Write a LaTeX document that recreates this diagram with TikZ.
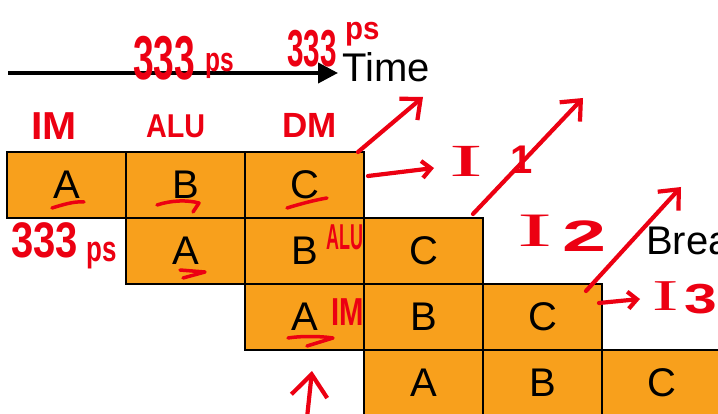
\documentclass[tikz,border=0pt]{standalone}
\usepackage{fontspec}
\setmainfont{Liberation Sans}
\newfontfamily\penserif{Liberation Serif}
\usetikzlibrary{arrows.meta}
\definecolor{cellorange}{RGB}{248,160,28}
\definecolor{pen}{RGB}{236,0,18}
\newcommand\handtxt[3]{\fontsize{#2}{#2}\selectfont\scalebox{#1}[1]{#3}}
\tikzset{
  cell/.style={draw=black, line width=2pt, fill=cellorange, minimum width=119pt,
    minimum height=66pt, inner sep=0pt, font=\fontsize{40}{44}\selectfont},
  hand/.style={text=pen, inner sep=0pt, anchor=base west, font=\bfseries},
  penline/.style={draw=pen, line width=4.2pt, line cap=round, line join=round},
  penarrow/.style={penline, -{Straight Barb[length=16pt,width=28pt]}},
  smallpenarrow/.style={penline, -{Straight Barb[length=9pt,width=17pt]}},
}
\begin{document}
\begin{tikzpicture}[x=1pt,y=-1pt]
\useasboundingbox (0,0) rectangle (718,414);
\clip (0,0) rectangle (718,414);
\fill[white] (0,0) rectangle (718,414);

% pipeline cells
\foreach \r in {0,1,2,3}{
  \foreach \c/\l in {0/A,1/B,2/C}{
    \pgfmathsetmacro\cx{66.5+119*(\r+\c)}
    \pgfmathsetmacro\cy{185+66*\r}
    \node[cell] (c\r\l) at (\cx,\cy) {\l};
  }
}

% time axis
\node[anchor=base west, inner sep=0pt, font=\fontsize{40}{44}\selectfont] (time) at (342,82) {Time};
\coordinate (t0) at (8,73);
\draw[line width=4pt, -{Triangle[length=20pt,width=20pt]}, shorten >=4pt] (t0) -- (time.west |- t0);

\node[anchor=base west, inner sep=0pt, font=\fontsize{40}{44}\selectfont] (brea) at (646,255) {Brea};

% handwritten annotations
\node[hand] (h333a) at (133,80) {\handtxt{0.6}{62}{333}};
\node[hand] (hpsa) at (205,72) {\handtxt{0.72}{34}{ps}};
\node[hand] (h333b) at (287,67) {\handtxt{0.57}{52}{333}};
\node[hand] (hpsb) at (345,40) {\handtxt{0.92}{32}{ps}};
\node[hand] (h333c) at (11,258) {\handtxt{0.8}{50}{333}};
\node[hand] (hpsc) at (86,262) {\handtxt{0.72}{36}{ps}};

\node[hand] (him) at (31,140) {\handtxt{1.05}{39}{IM}};
\node[hand] (halu) at (146,138) {\handtxt{0.87}{33}{ALU}};
\node[hand] (hdm) at (282,138) {\handtxt{1}{35}{DM}};
\node[hand] (halu2) at (326,250) {\handtxt{0.5}{36}{ALU}};
\node[hand] (him2) at (331,326) {\handtxt{0.75}{39}{IM}};

\node[hand] (hI1) at (449,177) {\penserif\mdseries\handtxt{2.2}{46}{I}};
\node[hand] (h1) at (510,174) {\handtxt{1}{40}{1}};
\node[hand] (hI2) at (517,247) {\penserif\mdseries\handtxt{2.2}{48}{I}};
\node[hand] (h2) at (562,252) {\handtxt{1.8}{44}{2}};
\node[hand] (hI3) at (652,311) {\penserif\mdseries\handtxt{1.8}{44}{I}};
\node[hand] (h3) at (684,313) {\handtxt{1.4}{42}{3}};

% pen arrows
\coordinate (aA0) at (358,152); \coordinate (aA1) at (423,97);
\draw[penarrow] (aA0) -- (aA1);
\coordinate (s0) at (368,176); \coordinate (s1) at (434,168);
\draw[smallpenarrow] (s0) -- (s1);
\coordinate (aB0) at (473,214); \coordinate (aB1) at (583,98);
\draw[penarrow] (aB0) -- (aB1);
\coordinate (aC0) at (586,291); \coordinate (aC1) at (681,187);
\draw[penarrow] (aC0) -- (aC1);
\coordinate (s2) at (599,303); \coordinate (s3) at (640,299);
\draw[smallpenarrow] (s2) -- (s3);
\coordinate (up0) at (307,418); \coordinate (up1) at (312,371);
\draw[penline, -{Straight Barb[length=22pt,width=36pt]}] (up0) -- (up1);

% underlines
\draw[penline, line width=3.5pt] (52,208) .. controls (62,205) and (74,201) .. (84,202);
\draw[penline, line width=3.5pt] (157,205) .. controls (172,200) and (188,200) .. (199,203) -- (193,212);
\draw[penline, line width=3.5pt] (287,208) .. controls (300,204) and (315,200) .. (327,198);
\draw[penline, line width=3.5pt] (180,270) -- (205,272) -- (183,278);
\draw[penline, line width=3.5pt] (288,338) .. controls (300,336) and (320,336) .. (333,338) -- (307,346);
\end{tikzpicture}
\end{document}
